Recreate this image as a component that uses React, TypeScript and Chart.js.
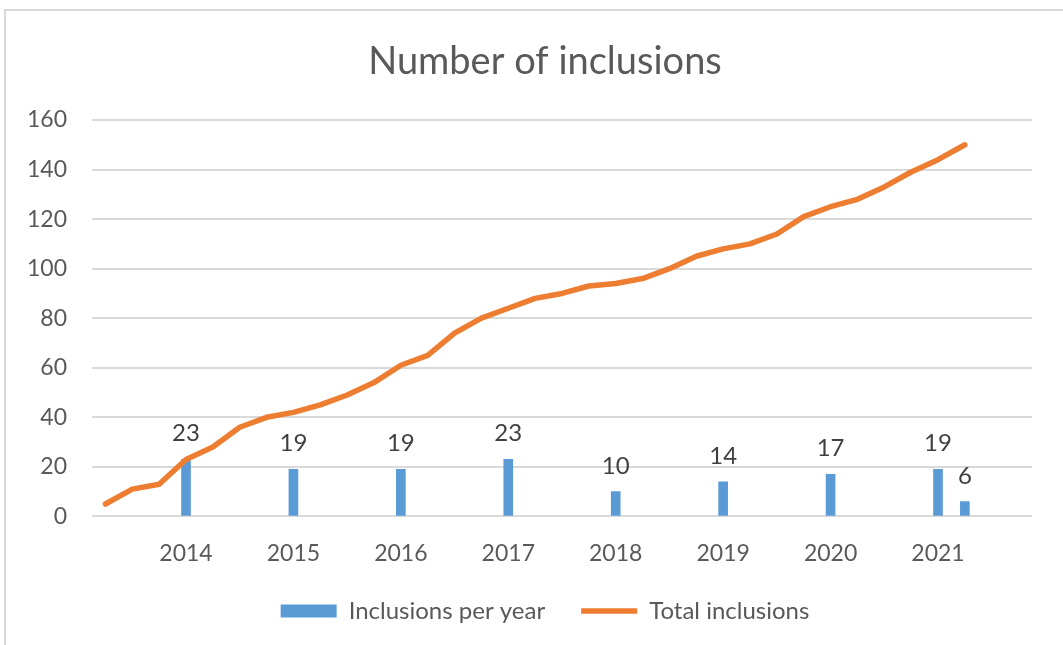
import React, { useEffect, useRef } from "react";
import { Chart, registerables } from "chart.js";

Chart.register(...registerables);

// Yearly inclusion counts (the last entry is the partial 2022 quarter)
const yearLabels = ["2014", "2015", "2016", "2017", "2018", "2019", "2020", "2021"];
const inclusionsPerYear = [23, 19, 19, 23, 10, 14, 17, 19, 6];
// Category slot (quarter index) where each yearly bar sits
const barSlots = [3, 7, 11, 15, 19, 23, 27, 31, 32];

// Cumulative inclusions, one value per quarter
const totalInclusions = [
  5, 11, 13, 23, 28, 36, 40, 42, 45, 49, 54, 61, 65, 74, 80, 84, 88, 90, 93, 94,
  96, 100, 105, 108, 110, 114, 121, 125, 128, 133, 139, 144, 150,
];

const SLOT_COUNT = 35;
const FONT = 'Lato, "Open Sans", sans-serif';
const BLUE = "#5B9BD5";
const ORANGE = "#ED7D31";
const GRID = "#D9D9D9";
const TEXT = "#595959";
const X_TICK_PAD = 23;
// The title and legend are centred on the whole chart frame, which runs past the right edge
const HEADER_SHIFT = 29;

const categories: string[] = Array.from({ length: SLOT_COUNT }, (_, i) =>
  i % 4 === 3 && Math.floor(i / 4) < yearLabels.length ? yearLabels[Math.floor(i / 4)] : ""
);

const barData: (number | null)[] = Array.from({ length: SLOT_COUNT }, () => null);
barSlots.forEach((slot, k) => {
  barData[slot] = inclusionsPerYear[k];
});

// Value labels above each bar
const barValueLabels = {
  id: "barValueLabels",
  afterDatasetsDraw(chart: any) {
    const meta = chart.getDatasetMeta(0);
    const ctx = chart.ctx;
    ctx.save();
    ctx.font = `24px ${FONT}`;
    ctx.fillStyle = "#404040";
    ctx.textAlign = "center";
    ctx.textBaseline = "alphabetic";
    meta.data.forEach((el: any, i: number) => {
      const v = chart.data.datasets[0].data[i];
      if (v === null || v === undefined) return;
      ctx.fillText(String(v), el.x, el.y - 18);
    });
    ctx.restore();
  },
};

// Move title and legend boxes sideways after layout
const shiftHeaderBoxes = {
  id: "shiftHeaderBoxes",
  afterLayout(chart: any) {
    [chart.titleBlock, chart.legend].forEach((box: any) => {
      if (!box) return;
      box.left += HEADER_SHIFT;
      box.right += HEADER_SHIFT;
    });
  },
};

export default function App() {
  const canvasRef = useRef<HTMLCanvasElement | null>(null);

  useEffect(() => {
    if (!canvasRef.current) return;
    const chart = new Chart(canvasRef.current, {
      type: "bar",
      data: {
        labels: categories,
        datasets: [
          {
            type: "bar",
            label: "Inclusions per year",
            data: barData,
            backgroundColor: BLUE,
            borderWidth: 0,
            barThickness: 9,
            pointStyle: "rect",
            order: 1,
          },
          {
            type: "line",
            label: "Total inclusions",
            data: totalInclusions,
            borderColor: ORANGE,
            backgroundColor: ORANGE,
            borderWidth: 5.5,
            borderCapStyle: "round",
            borderJoinStyle: "round",
            pointRadius: 0,
            pointHoverRadius: 0,
            pointStyle: "line",
            tension: 0,
            order: 0,
          } as any,
        ],
      },
      options: {
        animation: false,
        responsive: false,
        devicePixelRatio: 1,
        layout: { padding: { left: 0, right: 31, top: 10, bottom: 12 } },
        plugins: {
          tooltip: { enabled: false },
          title: {
            display: true,
            text: "Number of inclusions",
            color: TEXT,
            font: { family: FONT, size: 38, weight: "normal" },
            padding: { top: 29, bottom: 35.4 },
          },
          legend: {
            position: "bottom",
            labels: {
              color: TEXT,
              font: { family: FONT, size: 24 },
              usePointStyle: true,
              pointStyleWidth: 56,
              boxHeight: 13,
              padding: 36,
              sort: (a: any, b: any) => a.datasetIndex - b.datasetIndex,
            },
          },
        },
        scales: {
          x: {
            grid: { display: false, drawTicks: false },
            border: { display: false },
            ticks: {
              autoSkip: false,
              maxRotation: 0,
              color: TEXT,
              padding: X_TICK_PAD,
              font: { family: FONT, size: 23 },
            },
            afterFit(scale: any) {
              // keep only the padding above the labels
              scale.height = scale.height - X_TICK_PAD - 4;
            },
          },
          y: {
            min: 0,
            max: 160,
            grid: { color: GRID, lineWidth: 2, drawTicks: false },
            border: { display: false },
            ticks: {
              stepSize: 20,
              color: TEXT,
              padding: 25,
              font: { family: FONT, size: 23 },
            },
            afterFit(scale: any) {
              scale.width = 92;
            },
          },
        },
      },
      plugins: [barValueLabels, shiftHeaderBoxes],
    });
    return () => chart.destroy();
  }, []);

  return (
    <div
      style={{
        position: "fixed",
        left: 0,
        top: 0,
        width: 1063,
        height: 645,
        background: "#fff",
        overflow: "hidden",
      }}
    >
      <div
        style={{
          position: "absolute",
          left: 4,
          top: 9,
          width: 1100,
          height: 700,
          borderLeft: "2px solid #D9D9D9",
          borderTop: "2px solid #D9D9D9",
        }}
      />
      <canvas
        ref={canvasRef}
        width={1063}
        height={645}
        style={{ position: "absolute", left: 0, top: 0, width: 1063, height: 645 }}
      />
    </div>
  );
}
